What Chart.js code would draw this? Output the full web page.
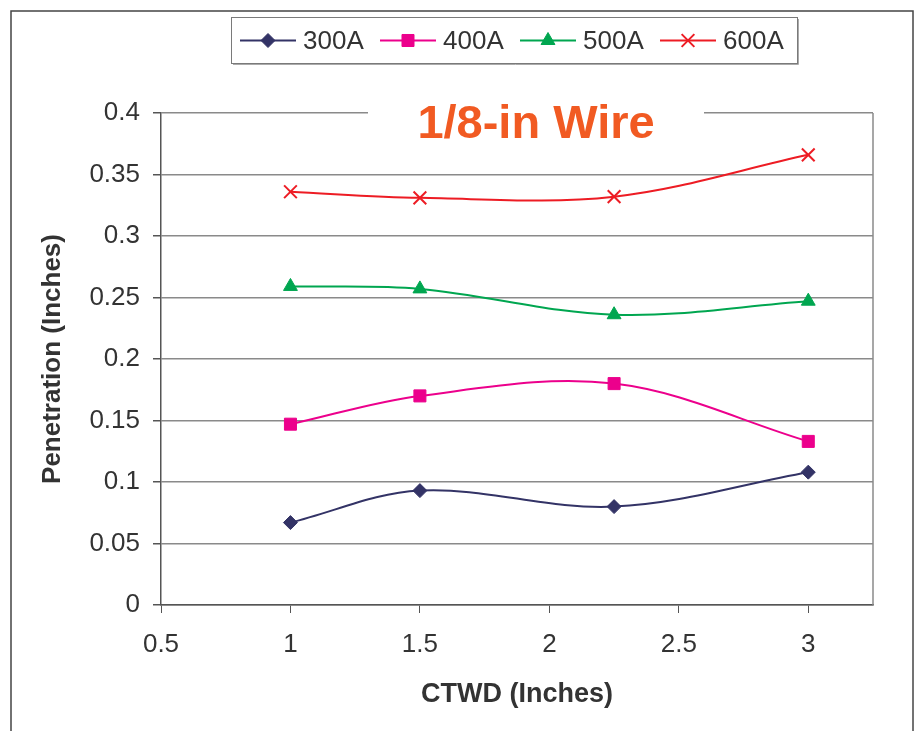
<!DOCTYPE html>
<html><head><meta charset="utf-8">
<style>html,body{margin:0;padding:0;background:#fff;} canvas{display:block;}</style>
<script src="https://cdn.jsdelivr.net/npm/chart.js@4.4.0/dist/chart.umd.min.js"></script>
</head><body>
<canvas id="c" width="923" height="731"></canvas>
<script>
const ctwd = [1, 1.5, 2.25, 3];
const seriesNames = ['300A', '400A', '500A', '600A'];
const pen300 = [0.067, 0.093, 0.080, 0.108];
const pen400 = [0.147, 0.170, 0.180, 0.133];
const pen500 = [0.259, 0.257, 0.236, 0.247];
const pen600 = [0.336, 0.331, 0.332, 0.366];
const xTicks = [0.5, 1, 1.5, 2, 2.5, 3];
const yTicks = [0, 0.05, 0.1, 0.15, 0.2, 0.25, 0.3, 0.35, 0.4];
const chartTitle = '1/8-in Wire';
const xTitle = 'CTWD (Inches)';
const yTitle = 'Penetration (Inches)';

const FONT = "'Liberation Sans', Arial, Helvetica, sans-serif";
const TXT = '#333333';

const styles = [
  {color: '#333366', pointStyle: 'rectRot', radius: 7},
  {color: '#EC008C', pointStyle: 'rect', radius: 8.5},
  {color: '#00A650', pointStyle: 'triangle', radius: 8},
  {color: '#ED1C24', pointStyle: 'crossRot', radius: 9}
];
const allSeries = [pen300, pen400, pen500, pen600];

const datasets = allSeries.map((vals, i) => ({
  label: seriesNames[i],
  data: vals.map((v, k) => ({x: ctwd[k], y: v})),
  borderColor: styles[i].color,
  backgroundColor: styles[i].color,
  pointBackgroundColor: styles[i].color,
  pointBorderColor: styles[i].color,
  pointStyle: styles[i].pointStyle,
  pointRadius: styles[i].radius,
  pointBorderWidth: styles[i].pointStyle === 'crossRot' ? 2 : 1,
  borderWidth: 2,
  tension: 0.35,
  fill: false
}));

function drawMarker(ctx, style, x, y, r, color) {
  ctx.save();
  ctx.fillStyle = color; ctx.strokeStyle = color; ctx.lineWidth = 1;
  ctx.beginPath();
  if (style === 'rectRot') {
    ctx.moveTo(x, y - r); ctx.lineTo(x + r, y); ctx.lineTo(x, y + r); ctx.lineTo(x - r, y); ctx.closePath();
    ctx.fill(); ctx.stroke();
  } else if (style === 'rect') {
    const s = r * Math.SQRT1_2;
    ctx.rect(x - s, y - s, 2 * s, 2 * s); ctx.fill(); ctx.stroke();
  } else if (style === 'triangle') {
    ctx.moveTo(x, y - r);
    ctx.lineTo(x + r * Math.sin(Math.PI * 2 / 3), y - r * Math.cos(Math.PI * 2 / 3));
    ctx.lineTo(x - r * Math.sin(Math.PI * 2 / 3), y - r * Math.cos(Math.PI * 2 / 3));
    ctx.closePath(); ctx.fill(); ctx.stroke();
  } else if (style === 'crossRot') {
    const s = r * Math.SQRT1_2;
    ctx.lineWidth = 2;
    ctx.moveTo(x - s, y - s); ctx.lineTo(x + s, y + s);
    ctx.moveTo(x + s, y - s); ctx.lineTo(x - s, y + s);
    ctx.stroke();
  }
  ctx.restore();
}

const decor = {
  id: 'decor',
  beforeDatasetsDraw(chart) {
    const {ctx, chartArea: a} = chart;
    ctx.save();
    ctx.strokeStyle = '#8a8a8a'; ctx.lineWidth = 1.5;
    ctx.beginPath(); ctx.moveTo(a.right, a.top); ctx.lineTo(a.right, a.bottom); ctx.stroke();
    ctx.fillStyle = '#ffffff';
    ctx.fillRect(368, a.top - 6, 336, 12);
    ctx.restore();
  },
  afterDraw(chart) {
    const {ctx} = chart;
    ctx.save();
    ctx.strokeStyle = '#444444'; ctx.lineWidth = 1.5;
    ctx.strokeRect(11, 11, 902, 740);
    ctx.fillStyle = '#F15A22';
    ctx.font = 'bold 47px ' + FONT;
    ctx.textAlign = 'center'; ctx.textBaseline = 'alphabetic';
    ctx.fillText(chartTitle, 536, 138);
    ctx.fillStyle = '#ffffff';
    ctx.strokeStyle = '#7a7a7a'; ctx.lineWidth = 1;
    ctx.fillRect(231, 17, 567, 46);
    ctx.strokeRect(231.5, 17.5, 566, 46);
    ctx.strokeStyle = '#aaaaaa';
    ctx.beginPath(); ctx.moveTo(233, 64.5); ctx.lineTo(798.5, 64.5); ctx.lineTo(798.5, 19); ctx.stroke();
    ctx.font = '26px ' + FONT;
    ctx.textAlign = 'left'; ctx.textBaseline = 'middle';
    chart.data.datasets.forEach((ds, i) => {
      const x0 = 240 + i * 140, y0 = 40.5;
      ctx.strokeStyle = ds.borderColor; ctx.lineWidth = 2;
      ctx.beginPath(); ctx.moveTo(x0, y0); ctx.lineTo(x0 + 56, y0); ctx.stroke();
      drawMarker(ctx, ds.pointStyle, x0 + 28, y0, ds.pointRadius, ds.borderColor);
      ctx.fillStyle = TXT;
      ctx.fillText(ds.label, x0 + 63, y0 + 1);
    });
    ctx.restore();
  }
};

new Chart(document.getElementById('c'), {
  type: 'line',
  data: {datasets},
  plugins: [decor],
  options: {
    responsive: false,
    animation: false,
    layout: {padding: {left: 0, top: 113, right: 50, bottom: 0}},
    plugins: {legend: {display: false}, tooltip: {enabled: false}, title: {display: false}},
    scales: {
      x: {
        type: 'linear', min: 0.5, max: 3.25,
        afterBuildTicks: s => { s.ticks = xTicks.map(v => ({value: v})); },
        afterFit: s => { s.height = 126; },
        grid: {color: 'rgba(0,0,0,0)', tickColor: '#555555', tickLength: 8, drawOnChartArea: false},
        border: {color: '#555555', width: 1.5},
        ticks: {font: {size: 26, family: FONT}, color: TXT, padding: 16, maxRotation: 0,
          callback: v => String(v)},
        title: {display: true, text: xTitle, color: TXT,
          font: {size: 27, weight: 'bold', family: FONT}, padding: {top: 0, bottom: 20}}
      },
      y: {
        type: 'linear', min: 0, max: 0.4,
        afterBuildTicks: s => { s.ticks = yTicks.map(v => ({value: v})); },
        afterFit: s => { s.width = 161; },
        grid: {color: '#8a8a8a', lineWidth: 1.5, tickColor: '#555555', tickLength: 8},
        border: {color: '#555555', width: 1.5},
        ticks: {font: {size: 26, family: FONT}, color: TXT, padding: 13,
          callback: v => String(v)},
        title: {display: true, text: yTitle, color: TXT,
          font: {size: 26, weight: 'bold', family: FONT}, padding: {top: 37, bottom: 0}}
      }
    }
  }
});
</script>
</body></html>
